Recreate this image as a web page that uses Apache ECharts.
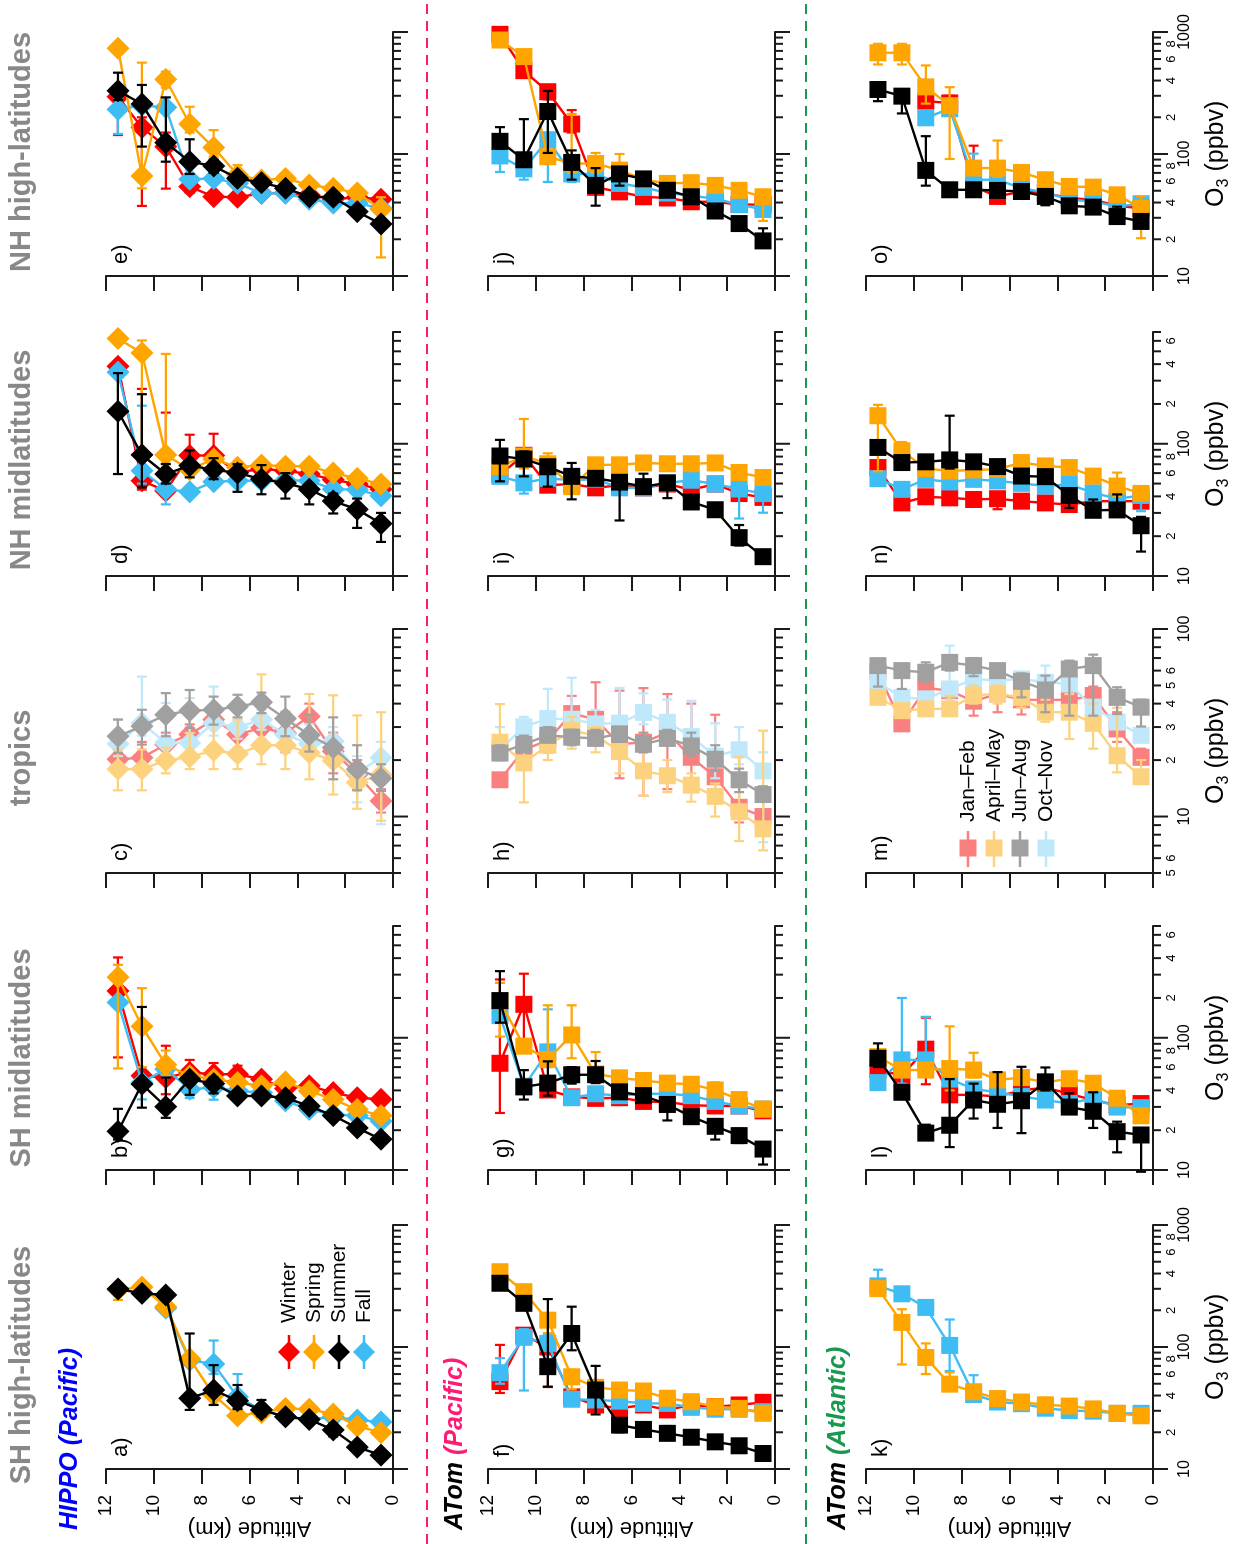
<!DOCTYPE html>
<html><head><meta charset="utf-8">
<script src="https://cdn.jsdelivr.net/npm/echarts@6/dist/echarts.min.js"></script>
<style>
html,body{margin:0;padding:0;width:1240px;height:1544px;overflow:hidden;background:#fff}
#chart{position:absolute;left:0;top:0;width:1544px;height:1240px;transform-origin:0 0;transform:translateY(1544px) rotate(-90deg);}
</style></head><body><div id="chart"></div>
<script>
// ---------- data (O3 in ppbv), altitude bins from 11.5 km down to 0.5 km ----------
const ALT = [11.5,10.5,9.5,8.5,7.5,6.5,5.5,4.5,3.5,2.5,1.5,0.5];

// HIPPO (Pacific)
const a_spr = [295,310,214,80,40.4,27.3,29,31.4,30.9,28.2,22.5,19.9];
const a_sum = [299,275,267,38,44.4,36.3,30.5,26.8,25.5,20.9,15.1,13.0];
const a_fal = [null,null,208,78,72.6,39,30.5,26.8,25.5,26.8,25.2,24.3];
const a_spr_e = [[243,330],null,null,null,null,null,null,null,null,null,null,null];
const a_sum_e = [null,null,null,[30.5,129],[33.5,71],[31,48.8],[27,36.8],null,null,[18.5,23.5],null,null];
const a_fal_e = [null,null,null,null,[60,113],[32,60],null,null,null,null,null,null];

const b_win = [226,51.6,50,54.7,53,53,48.6,41.3,43.3,38.5,35.2,34.2];
const b_spr = [287,122,62.5,51.6,48.6,45.9,43.3,46.4,39.6,34.2,28.7,25.8];
const b_sum = [19.6,44.6,30.1,48.6,45,36.3,36.3,35.2,30.4,25.8,20.8,17.1];
const b_fal = [185,45.9,58,40.8,42,39.6,38.5,33.3,28.7,26.3,25.8,23.4];
const b_win_e = [[71,405],null,[37.4,87],[45,68],[45,64.4],[45,61.5],null,null,null,null,null,null];
const b_spr_e = [[58.6,356],[60,237],[52,80],null,null,null,null,null,null,null,null,null];
const b_sum_e = [[17,29],[29.6,171],[24.8,50],[37,52],[38,50],null,null,null,null,null,null,null];
const b_fal_e = [null,[34.2,60],null,[35,46],[34,47],null,null,null,null,null,null,null];

const c_win = [20.2,20.6,24.2,27.4,32.9,27.4,29.7,27.9,34.2,22.3,16.8,12.1];
const c_spr = [17.9,17.9,19.9,20.8,22.5,21.6,24,24,21.9,19.9,15.2,16.7];
const c_sum = [26.8,30.3,34.9,36.7,37.1,38.6,40.7,33.3,27.2,23.3,17.9,16.0];
const c_fal = [24.4,31.5,24.7,24.7,31.5,29.9,32.9,27.4,24.4,25.2,17.2,20.6];
const c_win_e = [null,[18,25],[21,28],[22,31],null,null,null,[22,36],[26,40],[17,28],[14,20],[10.5,14]];
const c_spr_e = [[13.8,22.8],[13.8,22.8],[17,23.3],[17.9,27.9],[17.9,34.2],[17.9,32.9],[19,57.3],[17.9,36.4],[15.8,45],[13.1,44.3],[11,34.6],[9.5,36]];
const c_sum_e = [[21.9,32.9],[24.2,37.1],[26.8,45.5],[29.7,47.3],[30.9,43.6],[33.8,44.6],[35.6,45.8],[26.8,43.6],[22.2,34.9],[15.8,33.8],[13.8,24],[13.7,19]];
const c_fal_e = [[21,32.9],[27,55.7],[21,40.3],[21,42.8],[27,49.3],[26,38],[29,37],[24,36],[21,31],[22,30],[11.9,21],[9.1,25]];

const d_win = [385,52.5,44,81.5,81.5,60.8,64.4,62.5,59,53.5,49.5,45.3];
const d_spr = [625,486,82.4,63.7,76.6,66.4,69,67.6,67.6,60.1,54.7,49.5];
const d_sum = [176,82.4,59,68.4,63.7,60.1,54,50.4,45.3,36.9,31.9,24.9];
const d_fal = [348,62.5,45.3,43.3,51.6,52.5,52.5,53,52.5,45.3,45,40.4];
const d_win_e = [null,[45,260],[40,172],[70,117],[70,119],null,null,null,null,null,null,null];
const d_spr_e = [null,[75,604],[70,478],null,null,null,null,null,null,null,null,null];
const d_sum_e = [[59,342],[46.7,237],[50,70.3],[55.7,89],[54,77.8],[43.3,70],[41.5,69],[38.5,60],[34.8,50],[29.7,42],[23.1,38.5],[18.1,30]];
const d_fal_e = [null,[50,194],[34.8,50],null,null,null,null,null,null,null,null,null];

const e_win = [295,165,115,54,44.7,44.2,47.6,48,46.1,42.5,44.2,42.5];
const e_spr = [735,66,409,176,113,67.3,61.2,63,55.7,52.3,48,35.2];
const e_sum = [330,257,124,86.5,79.7,63.2,58.2,52.3,44.7,44.2,33.7,26.7];
const e_fal = [232,250,241,62,63,57.5,47.6,47.6,42.5,39.5,39.5,35.9];
const e_win_e = [[143,330],[37.5,200],[52,150],[48,60],null,null,null,null,null,null,null,null];
const e_spr_e = [null,[52.3,561],[350,473],[150,244],[95,157],[55,81],null,null,null,null,null,[14.2,44.2]];
const e_sum_e = [[277,464],[115,368],[86.5,291],[68.6,132],[70,90],[57,70],null,null,null,null,null,null];
const e_fal_e = [[146,280],null,null,null,null,null,null,null,null,null,null,null];

// ATom (Pacific)
const f_win = [52,125,100,39,33.5,31.4,33.5,30.5,33.5,32.4,33.5,35.2];
const f_spr = [414,284,166,57,46.7,44.4,43.6,38,35.6,32.4,31.4,28.6];
const f_sum = [333,228,69,129,44.4,22.9,21.1,19.6,18.2,16.7,15.5,13.4];
const f_fal = [61.6,120,107,37.3,36.8,36,34.5,34.5,32,30.9,30.9,29.5];
const f_win_e = [[42,104],[110,137],[47,110],null,[30,37],null,null,null,null,null,null,null];
const f_spr_e = [null,null,[130,180],[45,65],null,null,null,null,null,null,null,null];
const f_sum_e = [null,null,[47.3,247],[94,214],[28,70],[20,25],[19.5,22.5],[18,22.5],null,null,null,[12.5,14.5]];
const f_fal_e = [[50,81],[44,140],[70,125],null,null,null,null,null,null,null,null,null];

const g_win = [64.1,179,40.3,35.7,34.8,35.2,33,32.6,30.9,30.5,30.5,28];
const g_spr = [190,86.4,68.5,105,53.2,49.8,47.5,45.4,44.5,40.3,34.1,28.9];
const g_sum = [191,42.5,45.4,52.5,52.5,39,36.5,31.3,25.3,21.4,18.2,14.4];
const g_fal = [147,43,78.2,35.2,37.7,36.5,37.7,37.7,36.5,33,30.5,28.9];
const g_win_e = [[27,276],[96.8,305],null,null,null,null,null,null,null,null,null,null];
const g_spr_e = [[102,260],null,[60,176],[70,176],[50,78],[46,55],null,null,null,[37,46],null,null];
const g_sum_e = [[130,319],[34.1,56.9],[36.5,66.3],[45,60],[45.4,66.7],[36,42],[33,40],[23.7,35],[22.7,28],[17,24],[16,20.5],[11,15.5]];
const g_fal_e = [null,null,[60,164],null,null,null,null,null,null,null,null,null];

const h_win = [15.7,22.7,25.5,35.4,33,24.3,24.9,28,20.7,16.3,11.2,10];
const h_spr = [24.9,19.3,24,28.7,27.1,22.2,17.5,16.5,14.7,12.8,10.6,8.6];
const h_sum = [21.8,24.3,27.1,26.5,26.1,27.6,24.3,26.1,23.8,20.2,15.7,13.1];
const h_fal = [22.7,30.1,33.3,33,31.2,31.5,35.9,31.8,26.7,21,22.7,17.5];
const h_win_e = [null,[18,28],[22,33],[28,44],[26,52],[16,46.9],[12.9,48.4],[14,45],[16,40],[13,34.9],[9.3,21.8],[8,14]];
const h_spr_e = [[20,39.8],[11.9,26],[20,30],[23,34],[22,30],[17,30],[12.9,22],[13.5,20],[12,17],[10,15],[7.4,20.7],[6.6,28.7]];
const h_sum_e = [[20,24],[22,27],[25,30],[24,29],[24,29],[25,30],[22,28],[24,29],[21,28],[17.5,24],[13.5,18],[12,14.5]];
const h_fal_e = [[20,30],[27,34],[29,48],[29,55],[28,37],[28,48.5],[31,45.4],[28,42.1],[22,41.4],[16,31.4],[19,30],[7.3,22]];

const i_win = [58.6,81.8,48.6,49.6,46.4,48.6,46.4,49.6,44.9,49.6,42,39.3];
const i_spr = [67,80.8,70.6,47.4,69.3,69.3,71.6,70.6,70.6,71.6,60.6,55.6];
const i_sum = [80.8,76.6,67,56.7,54.8,51.3,47.4,50.6,36.3,31.7,19.5,14];
const i_fal = [56.7,50.6,54.8,53,54,46.4,46.4,50.6,53,49.6,45.5,42];
const i_win_e = [null,null,null,null,null,null,null,null,null,null,null,[36,45]];
const i_spr_e = [null,[65,154],[60,84.7],[42,55],null,null,null,null,null,null,null,null];
const i_sum_e = [[52,107],[56.7,87.5],[47.4,74],[38,71.6],null,[26.3,55],[44,59.4],[38.8,55],null,null,[17,24.3],null];
const i_fal_e = [null,[42,56],null,null,null,null,null,null,null,null,[27.2,50],[30.1,48]];

const j_win = [957,482,324,176,53.3,48.9,44.6,43.6,40.6,40.6,38.5,38.5];
const j_spr = [859,629,95,83.5,83.5,73.8,61.6,57.4,58.2,55.3,50.4,44.6];
const j_sum = [127,89.7,223,85.3,55.3,68.7,62.5,50.4,44.6,34.1,26.9,19.4];
const j_fal = [96.4,75.5,131,68.7,68.7,57.4,53.3,47.9,45.5,43,38.5,35.1];
const j_win_e = [null,null,[280,360],[150,229],null,null,null,null,null,null,null,null];
const j_spr_e = [null,null,null,[70,213],[70,102],[65,100],null,null,null,null,null,[28.3,50]];
const j_sum_e = [[110,166],[80,193],[102,329],[61.6,107],[37.7,76.6],[55,75],null,null,[40,50],null,[25,29],[18,24.6]];
const j_fal_e = [[71.3,110],[61.6,90],[59,250],[59,75],null,null,null,null,null,null,null,null];

// ATom (Atlantic)
const k_spr = [301,159,82,49.6,43,37.8,35.4,33.6,32.8,31.1,28.6,27.3];
const k_fal = [317,273,211,103,40.8,35.4,34.3,31.5,30.1,29.8,28.6,28.6];
const k_spr_e = [null,[72,204],[60,107],[45,62],null,null,null,null,null,null,null,null];
const k_fal_e = [[280,430],null,null,[63.5,168],[36,58.7],[33,37],null,null,null,null,null,null];

const l_win = [57,52,82,37,37,36,40,42,37.7,33.8,30.9,31.8];
const l_spr = [72,57,57,58.5,57,48,50,46,49,45.3,34.9,25.7];
const l_sum = [70,38.7,19,21.8,33.8,31.4,33.4,46.4,29.9,27.8,19.5,18.4];
const l_fal = [45.8,68,68,48.7,41,38.7,36,33.8,31.8,34.9,29.9,29.6];
const l_win_e = [null,null,[44.5,142],null,null,null,null,null,null,null,null,null];
const l_spr_e = [null,null,null,[40,122],[50,77],null,null,null,null,null,null,null];
const l_sum_e = [[60,90.7],null,[18,22],[14.9,48.7],[24.5,45],[20.8,55],[19,60.3],[40,59.6],[27,38],[20.8,38.7],[13.6,23.2],[9.7,20]];
const l_fal_e = [null,[45,200],[53,144],null,null,null,null,null,null,null,null,null];

const m_win = [58.8,31.2,48.5,46.9,41.2,45.1,41.9,41.9,41.9,44.2,29.3,20.7];
const m_spr = [43.2,36.7,37.5,37.5,44.2,45.1,43.2,36,36,31.4,21.1,16.3];
const m_sum = [63.8,60,58.8,66.4,63.8,60,52.6,47.3,61.2,63.8,43.2,38.3];
const m_fal = [52,43.2,42.4,47.9,54.2,53.1,54.2,52,50.9,38.3,31.9,27.1];
const m_win_e = [null,null,[42,52],[36,52],[34.5,48],[36,50],[35,45],[38,46],null,[38,49.3],[25,36],[19,23]];
const m_spr_e = [[40,47],null,null,[35,44],[40,50],[40,50],[38,48],[32,42],[25.9,45],[23,40],[17.2,38],[15,20]];
const m_sum_e = [[49.3,68],[47.9,65],[52,66.4],[60,72],[56,70],[57,63],[43.2,58],[36,56.4],[34.5,67.8],[34.5,73],[35.2,48.9],[30.2,42]];
const m_fal_e = [null,null,null,[42,81.5],null,null,null,[45,63.8],null,null,null,null];

const n_win = [66.1,35.7,39.7,39,37.9,38.4,36.8,35.7,34.7,36.8,36.8,36.8];
const n_spr = [163,88.5,64.9,62.3,63.4,64.1,72.1,68,66.1,56.9,47.9,42.1];
const n_sum = [93.8,72.1,73,75.5,73,67.2,57,56.4,40.6,31.4,31.6,24];
const n_fal = [54.5,45.2,53.8,51.4,53.8,52.3,50.2,47.9,49.3,42.6,38.4,40.6];
const n_win_e = [null,[33,50],null,null,null,[32,39],null,null,null,null,null,null];
const n_spr_e = [[62,197],[80,103],null,null,null,null,null,null,null,null,[40,60.5],null];
const n_sum_e = [null,null,null,[64.9,163],null,null,null,null,[32.7,45],[29,37.9],[28,41.4],[15.3,28]];
const n_fal_e = [null,null,null,null,null,null,null,null,null,null,null,[30.9,45]];

const o_win = [null,null,271,262,54,44.9,49.3,47.8,43.5,42.2,37.6,35.9];
const o_spr = [676,676,355,249,76.7,76.7,70.6,61.5,54.2,53.5,46.3,35.9];
const o_sum = [338,298,73.4,50.9,50.9,50.3,49.3,44.9,37.6,36.7,30.7,28];
const o_fal = [null,null,198,235,61.5,61.5,52.5,48.4,42.2,40.8,37.2,39.1];
const o_win_e = [null,null,null,[220,300],[45,117],null,null,null,null,null,null,null];
const o_spr_e = [[542,800],[542,800],[259,532],[91,353],null,[65,129],null,null,null,null,null,[20.4,45]];
const o_sum_e = [[271,370],[215,330],[55,140],[45,57],[45,57],null,null,[38,50],null,null,[28,37],null];
const o_fal_e = [null,null,null,null,[50,100.7],null,null,null,null,null,null,null];

// axis ticks and tick labels of the O3 axes
const TICKS_A = [10,20,30,40,50,60,70,80,90,100,200,300,400,500,600,700,800,900,1000];
const LABS_A  = ['10','2','','4','','6','','8','','100','2','','4','','6','','8','','1000'];
const TICKS_B = [10,20,30,40,50,60,70,80,90,100,200,300,400,500,600,700];
const LABS_B  = ['10','2','','4','','6','','8','','100','2','','4','','6',''];
const TICKS_C = [5,6,7,8,9,10,20,30,40,50,60,70,80,90,100];
const LABS_C  = ['5','6','','','','10','2','3','4','5','6','','','','100'];

const COL_TITLES = ['SH high-latitudes','SH midlatitudes','tropics','NH midlatitudes','NH high-latitudes'];
const LETTERS = ['a)','b)','c)','d)','e)','f)','g)','h)','i)','j)','k)','l)','m)','n)','o)'];
const LEG_HIPPO = ['Winter','Spring','Summer','Fall'];
const LEG_ATOM = ['Jan\u2013Feb','April\u2013May','Jun\u2013Aug','Oct\u2013Nov'];

// ---------- layout ----------
const FONT = '"Liberation Sans", Arial, Helvetica, sans-serif';
const COL_LEFT = [75,374,671,968,1268];
const COL_MIN = [10,10,5,10,10];
const COL_MAX = [1000,700,100,700,1000];
const COL_TICKS = [[TICKS_A,LABS_A],[TICKS_B,LABS_B],[TICKS_C,LABS_C],[TICKS_B,LABS_B],[TICKS_A,LABS_A]];
const TITLE_X = [179,486,786,1084,1392];
const ROW_TOP = [106,488,866];
const GW = 244, GH = 287;
const FULL = {win:'#ff0000', spr:'#ffa500', sum:'#000000', fal:'#3ebdf5'};
const LIGHT = {win:'#fa8080', spr:'#fdd27e', sum:'#a0a0a0', fal:'#bfe8fb'};
const ORDER = ['win','fal','spr','sum'];
const ZORD = {win:2, fal:3, spr:4, sum:5};

function P(win,spr,sum,fal,winE,sprE,sumE,falE){
  return {win:[win,winE], spr:[spr,sprE], sum:[sum,sumE], fal:[fal,falE]};
}
const PANELS = [
  [P(null,a_spr,a_sum,a_fal,null,a_spr_e,a_sum_e,a_fal_e),
   P(b_win,b_spr,b_sum,b_fal,b_win_e,b_spr_e,b_sum_e,b_fal_e),
   P(c_win,c_spr,c_sum,c_fal,c_win_e,c_spr_e,c_sum_e,c_fal_e),
   P(d_win,d_spr,d_sum,d_fal,d_win_e,d_spr_e,d_sum_e,d_fal_e),
   P(e_win,e_spr,e_sum,e_fal,e_win_e,e_spr_e,e_sum_e,e_fal_e)],
  [P(f_win,f_spr,f_sum,f_fal,f_win_e,f_spr_e,f_sum_e,f_fal_e),
   P(g_win,g_spr,g_sum,g_fal,g_win_e,g_spr_e,g_sum_e,g_fal_e),
   P(h_win,h_spr,h_sum,h_fal,h_win_e,h_spr_e,h_sum_e,h_fal_e),
   P(i_win,i_spr,i_sum,i_fal,i_win_e,i_spr_e,i_sum_e,i_fal_e),
   P(j_win,j_spr,j_sum,j_fal,j_win_e,j_spr_e,j_sum_e,j_fal_e)],
  [P(null,k_spr,null,k_fal,null,k_spr_e,null,k_fal_e),
   P(l_win,l_spr,l_sum,l_fal,l_win_e,l_spr_e,l_sum_e,l_fal_e),
   P(m_win,m_spr,m_sum,m_fal,m_win_e,m_spr_e,m_sum_e,m_fal_e),
   P(n_win,n_spr,n_sum,n_fal,n_win_e,n_spr_e,n_sum_e,n_fal_e),
   P(o_win,o_spr,o_sum,o_fal,o_win_e,o_spr_e,o_sum_e,o_fal_e)]
];

const grid=[], xAxis=[], yAxis=[], series=[], graphic=[];
const AXC = '#1a1a1a';

function isMajor(v){ const l=Math.log10(v); return Math.abs(l-Math.round(l))<1e-9; }

for (let r=0;r<3;r++){
  for (let c=0;c<5;c++){
    const gi=r*5+c;
    grid.push({left:COL_LEFT[c], top:ROW_TOP[r], width:GW, height:GH});
    xAxis.push({type:'log', logBase:10, gridIndex:gi, min:COL_MIN[c], max:COL_MAX[c],
      axisLine:{show:true,onZero:false,lineStyle:{color:AXC,width:2}},
      axisTick:{show:false}, axisLabel:{show:false}, splitLine:{show:false}});
    yAxis.push({type:'value', gridIndex:gi, min:0, max:12, interval:2,
      axisLine:{show:true,onZero:false,lineStyle:{color:AXC,width:2}},
      axisTick:{show:true,inside:false,length:15,lineStyle:{color:AXC,width:2}},
      axisLabel:{show:c===0, margin:26, fontSize:19, color:'#000', fontFamily:FONT},
      splitLine:{show:false}});
    // O3 axis ticks
    const [tv, tl] = COL_TICKS[c];
    series.push({type:'custom', xAxisIndex:gi, yAxisIndex:gi, clip:false, silent:true, z:1,
      data: tv.map((v,i)=>[v,0,i]),
      renderItem:(params,api)=>{
        const v=api.value(0), idx=api.value(2);
        const p=api.coord([v,0]);
        const maj=isMajor(v);
        const ch=[{type:'line', shape:{x1:p[0],y1:p[1],x2:p[0],y2:p[1]+(maj?15:8)}, style:{stroke:AXC,lineWidth:2}}];
        if (r===2 && tl[idx]) {
          ch.push({type:'text', x:p[0], y:p[1]+(maj?32:18),
            style:{text:tl[idx], fill:'#000', fontSize:maj?16:13, fontFamily:FONT,
                   align:'center', verticalAlign:'middle', textAlign:'center', textVerticalAlign:'middle'}});
        }
        return {type:'group', children:ch};
      }});
    const pan = PANELS[r][c];
    const pal = (c===2) ? LIGHT : FULL;
    const sym = (r===0) ? 'diamond' : 'rect';
    const ssz = (r===0) ? 23 : 17;
    for (const s of ORDER){
      const [vals, errs] = pan[s];
      if (!vals) continue;
      const col = pal[s];
      if (errs){
        const ed=[];
        errs.forEach((e,i)=>{ if(e) ed.push([e[0],ALT[i],e[1]]); });
        series.push({type:'custom', xAxisIndex:gi, yAxisIndex:gi, clip:false, silent:true, z:ZORD[s],
          data:ed, encode:{x:0,y:1},
          renderItem:(params,api)=>{
            const lo=api.value(0), a=api.value(1), hi=api.value(2);
            const p1=api.coord([lo,a]), p2=api.coord([hi,a]);
            const st={stroke:col,lineWidth:2.2};
            return {type:'group', children:[
              {type:'line', shape:{x1:p1[0],y1:p1[1],x2:p2[0],y2:p2[1]}, style:st},
              {type:'line', shape:{x1:p1[0],y1:p1[1]-5,x2:p1[0],y2:p1[1]+5}, style:st},
              {type:'line', shape:{x1:p2[0],y1:p2[1]-5,x2:p2[0],y2:p2[1]+5}, style:st}
            ]};
          }});
      }
      const data=[];
      vals.forEach((v,i)=>{ if(v!=null) data.push([v,ALT[i]]); });
      series.push({type:'line', xAxisIndex:gi, yAxisIndex:gi, z:ZORD[s], data,
        symbol:sym, symbolSize:ssz, showSymbol:true, showAllSymbol:true, silent:true,
        lineStyle:{color:col,width:2.4}, itemStyle:{color:col,borderWidth:0}});
    }
    // panel letter
    graphic.push({type:'text', x:COL_LEFT[c]+12, y:ROW_TOP[r]+4,
      style:{text:LETTERS[gi], fill:'#000', font:'22px '+FONT, align:'left', verticalAlign:'top', textAlign:'left', textVerticalAlign:'top'}});
  }
  // altitude axis title
  graphic.push({type:'text', x:16, y:ROW_TOP[r]+GH/2, rotation:Math.PI/2,
    style:{text:'Altitude (km)', fill:'#000', font:'22px '+FONT, align:'center', verticalAlign:'middle', textAlign:'center', textVerticalAlign:'middle'}});
}

// column titles
COL_TITLES.forEach((t,c)=>{
  graphic.push({type:'text', x:TITLE_X[c], y:22,
    style:{text:t, fill:'#888888', font:'bold 29px '+FONT, align:'center', verticalAlign:'middle', textAlign:'center', textVerticalAlign:'middle'}});
});
// O3 axis titles under bottom row
for (let c=0;c<5;c++){
  const cx = COL_LEFT[c]+GW/2, x0 = cx-53, y=1216;
  graphic.push({type:'text', x:x0, y:y, style:{text:'O', fill:'#000', font:'25px '+FONT, align:'left', verticalAlign:'middle', textAlign:'left', textVerticalAlign:'middle'}});
  graphic.push({type:'text', x:x0+19.5, y:y+8, style:{text:'3', fill:'#000', font:'16px '+FONT, align:'left', verticalAlign:'middle', textAlign:'left', textVerticalAlign:'middle'}});
  graphic.push({type:'text', x:x0+28.5, y:y, style:{text:' (ppbv)', fill:'#000', font:'25px '+FONT, align:'left', verticalAlign:'middle', textAlign:'left', textVerticalAlign:'middle'}});
}
// row labels
const BI = 'italic bold 25px '+FONT;
graphic.push({type:'text', x:14, y:70, style:{text:'HIPPO (Pacific)', fill:'#0000ff', font:BI, align:'left', verticalAlign:'middle', textAlign:'left', textVerticalAlign:'middle'}});
graphic.push({type:'text', x:14, y:455, style:{text:'ATom', fill:'#000', font:BI, align:'left', verticalAlign:'middle', textAlign:'left', textVerticalAlign:'middle'}});
graphic.push({type:'text', x:89, y:455, style:{text:'(Pacific)', fill:'#ff1a75', font:BI, align:'left', verticalAlign:'middle', textAlign:'left', textVerticalAlign:'middle'}});
graphic.push({type:'text', x:14, y:838, style:{text:'ATom', fill:'#000', font:BI, align:'left', verticalAlign:'middle', textAlign:'left', textVerticalAlign:'middle'}});
graphic.push({type:'text', x:89, y:838, style:{text:'(Atlantic)', fill:'#1a9850', font:BI, align:'left', verticalAlign:'middle', textAlign:'left', textVerticalAlign:'middle'}});
// dashed separators
graphic.push({type:'line', shape:{x1:0,y1:427,x2:1544,y2:427}, style:{stroke:'#ff1a75',lineWidth:2,lineDash:[10,7]}});
graphic.push({type:'line', shape:{x1:0,y1:806,x2:1544,y2:806}, style:{stroke:'#1a9850',lineWidth:2,lineDash:[10,7]}});
// legends
const LEGKEYS=['win','spr','sum','fal'];
LEGKEYS.forEach((k,i)=>{
  const y=289+i*25, cx=192, col=FULL[k];
  graphic.push({type:'line', shape:{x1:175,y1:y,x2:209,y2:y}, style:{stroke:col,lineWidth:2.4}});
  graphic.push({type:'polygon', shape:{points:[[cx,y-11],[cx+11,y],[cx,y+11],[cx-11,y]]}, style:{fill:col}});
  graphic.push({type:'text', x:221, y:y, style:{text:LEG_HIPPO[i], fill:'#000', font:'21px '+FONT, align:'left', verticalAlign:'middle', textAlign:'left', textVerticalAlign:'middle'}});
});
LEGKEYS.forEach((k,i)=>{
  const y=968+i*26, cx=696, col=LIGHT[k];
  graphic.push({type:'line', shape:{x1:677,y1:y,x2:713,y2:y}, style:{stroke:col,lineWidth:2.4}});
  graphic.push({type:'rect', shape:{x:cx-8.5,y:y-8.5,width:17,height:17}, style:{fill:col}});
  graphic.push({type:'text', x:722, y:y, style:{text:LEG_ATOM[i], fill:'#000', font:'21px '+FONT, align:'left', verticalAlign:'middle', textAlign:'left', textVerticalAlign:'middle'}});
});

const chart = echarts.init(document.getElementById('chart'), null, {renderer:'canvas'});
chart.setOption({animation:false, backgroundColor:'#fff', grid, xAxis, yAxis, series, graphic});
</script></body></html>
